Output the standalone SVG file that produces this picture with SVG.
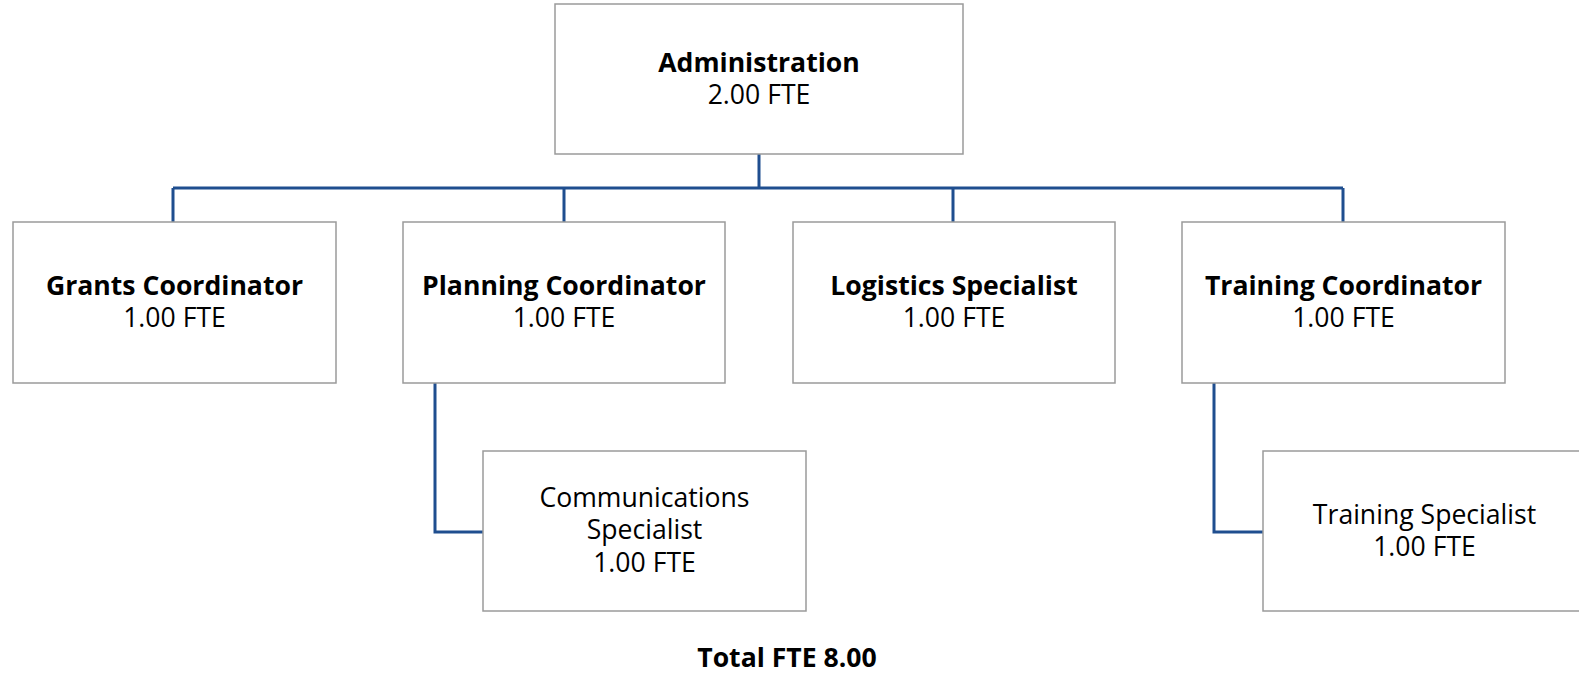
<svg xmlns="http://www.w3.org/2000/svg" width="1579" height="673" viewBox="0 0 1579 673">
<style>
.box{fill:#fff;stroke:#9a9a9a;stroke-width:1.5}
.t{font-family:"Open Sans","Liberation Sans",sans-serif;font-size:26.6px;fill:#000;text-anchor:middle}
.b{font-weight:bold}
.c{fill:none;stroke:#1f4e8f;stroke-width:3}
</style>
<rect width="1579" height="673" fill="#fff"/>
<g id="connectors">
<path class="c" d="M759 154V188M173 188H1343M173 188V222M564 188V222M953 188V222M1343 188V222"/>
<path class="c" d="M435 383V532H483"/>
<path class="c" d="M1214 383V532H1263"/>
</g>
<g id="admin">
<rect class="box" x="555" y="4" width="408" height="150"/>
<text class="t b" x="759" y="72">Administration</text>
<text class="t" x="759" y="104">2.00 FTE</text>
</g>
<g id="grants">
<rect class="box" x="13" y="222" width="323" height="161"/>
<text class="t b" x="174.5" y="295">Grants Coordinator</text>
<text class="t" x="174.5" y="327">1.00 FTE</text>
</g>
<g id="planning">
<rect class="box" x="403" y="222" width="322" height="161"/>
<text class="t b" x="564" y="295">Planning Coordinator</text>
<text class="t" x="564" y="327">1.00 FTE</text>
</g>
<g id="logistics">
<rect class="box" x="793" y="222" width="322" height="161"/>
<text class="t b" x="954" y="295">Logistics Specialist</text>
<text class="t" x="954" y="327">1.00 FTE</text>
</g>
<g id="training">
<rect class="box" x="1182" y="222" width="323" height="161"/>
<text class="t b" x="1343.5" y="295">Training Coordinator</text>
<text class="t" x="1343.5" y="327">1.00 FTE</text>
</g>
<g id="communications">
<rect class="box" x="483" y="451" width="323" height="160"/>
<text class="t" x="644.5" y="507">Communications</text>
<text class="t" x="644.5" y="539">Specialist</text>
<text class="t" x="644.5" y="572">1.00 FTE</text>
</g>
<g id="training-specialist">
<rect class="box" x="1263" y="451" width="323" height="160"/>
<text class="t" x="1424.5" y="524">Training Specialist</text>
<text class="t" x="1424.5" y="556">1.00 FTE</text>
</g>
<text class="t b" x="787" y="667">Total FTE 8.00</text>
</svg>
